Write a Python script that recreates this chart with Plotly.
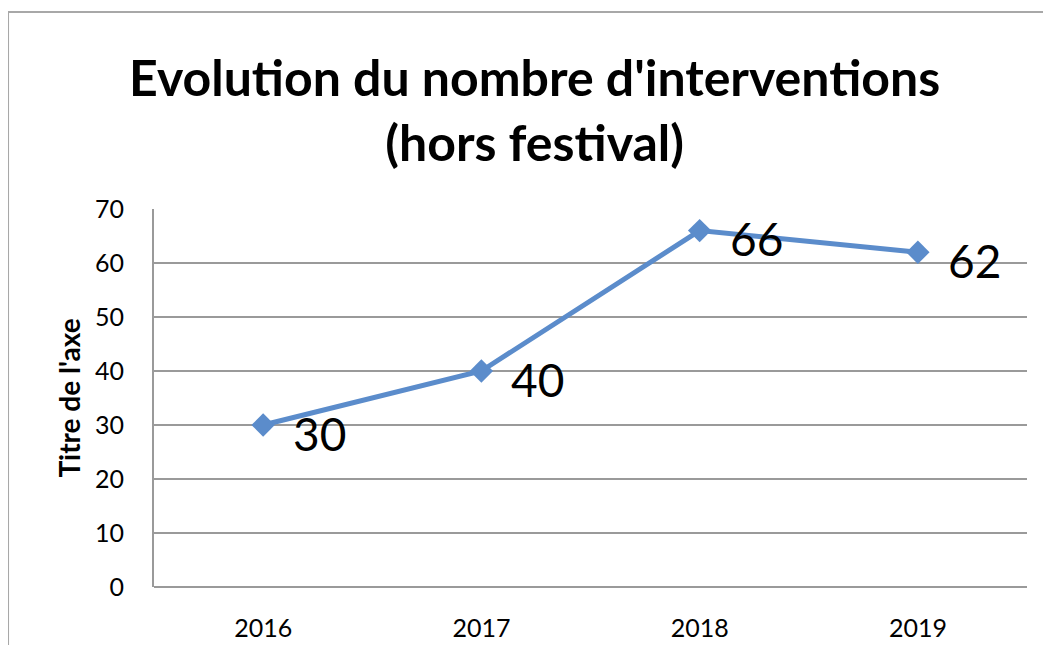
import plotly.graph_objects as go

years = ['2016', '2017', '2018', '2019']
interventions = [30, 40, 66, 62]
y_ticks = [0, 10, 20, 30, 40, 50, 60, 70]

title_text = "Evolution du nombre d'interventions<br>(hors festival)"
y_title = "Titre de l'axe"

blue = '#5B8CCB'
grid = '#9a9a9a'
font_family = 'Lato'

fig = go.Figure()
fig.add_trace(go.Scatter(
    x=years,
    y=interventions,
    mode='lines+markers',
    line=dict(color=blue, width=5),
    marker=dict(symbol='diamond', size=18, color=blue),
    showlegend=False,
    hoverinfo='skip'
))

# value labels next to each point (category index on x)
for i, val in enumerate(interventions):
    fig.add_annotation(
        x=i, y=val, text=str(val),
        showarrow=False, xanchor='left', yanchor='middle',
        xshift=28, yshift=-8,
        font=dict(family=font_family, size=46, color='black')
    )

# title
fig.add_annotation(
    x=0.4364, y=1.262, xref='paper', yref='paper',
    text='<b>' + title_text.replace('<br>', '</b><br><b>') + '</b>',
    showarrow=False, xanchor='center', yanchor='middle',
    font=dict(family=font_family, size=50, color='black')
)

# outer chart border
fig.add_shape(
    type='rect', xref='paper', yref='paper',
    x0=-0.1672, y0=-0.25, x1=1.05, y1=1.521,
    line=dict(color='#a8a8a8', width=2), fillcolor='rgba(0,0,0,0)', layer='below'
)

fig.update_layout(
    width=1035, height=637,
    margin=dict(l=146, r=16, t=201, b=58),
    plot_bgcolor='white',
    paper_bgcolor='white',
    font=dict(family=font_family, color='black'),
    xaxis=dict(
        type='category', range=[-0.5, 3.5], automargin=False,
        showgrid=False, zeroline=False, showline=False,
        ticks='outside', ticklen=19, tickcolor='rgba(0,0,0,0)',
        tickfont=dict(size=25)
    ),
    yaxis=dict(
        range=[0, 70], tickvals=y_ticks, automargin=False,
        showgrid=True, gridcolor=grid, gridwidth=2,
        zeroline=True, zerolinecolor=grid, zerolinewidth=2,
        showline=True, linecolor=grid, linewidth=2,
        ticks='outside', ticklen=23, tickcolor='rgba(0,0,0,0)',
        tickfont=dict(size=25),
        title=dict(text='<b>' + y_title + '</b>', font=dict(size=28), standoff=6)
    )
)

fig.write_html('out.html')
